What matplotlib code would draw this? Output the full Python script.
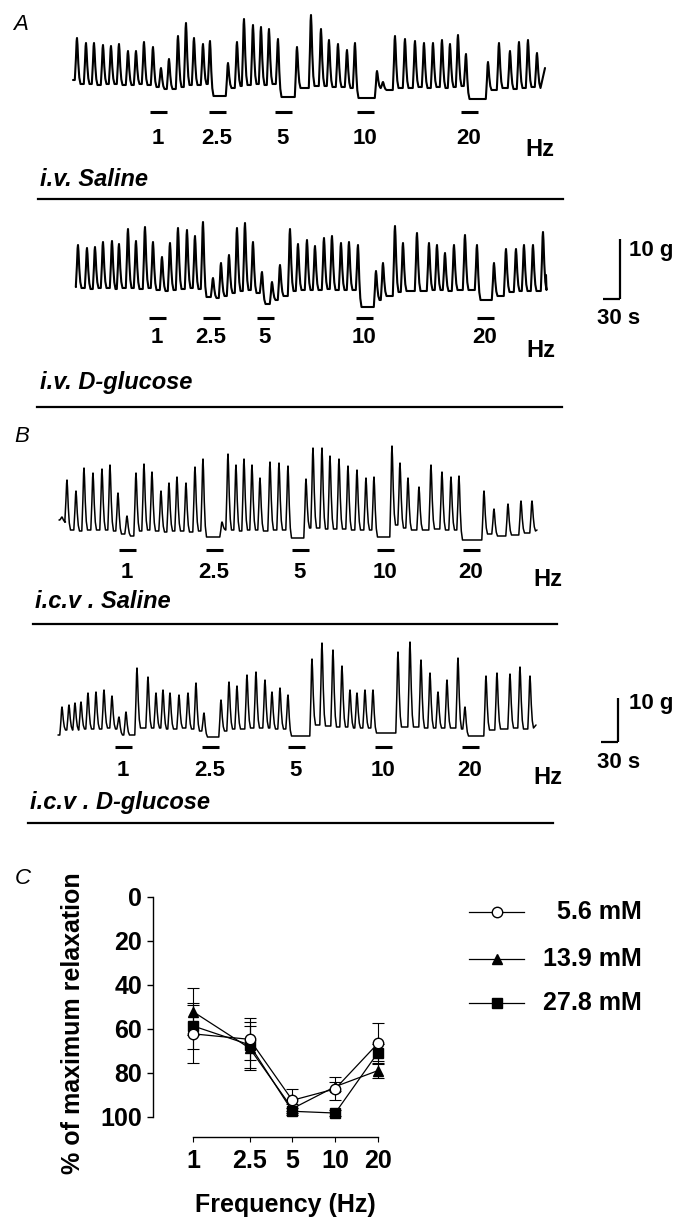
import numpy as np
import matplotlib
matplotlib.use("Agg")
import matplotlib.pyplot as plt
from matplotlib.lines import Line2D

plt.rcParams['font.family'] = ['Liberation Sans', 'DejaVu Sans']

W, H = 687, 1217

# ---------------- data ----------------
stim_labels = ['1', '2.5', '5', '10', '20']
STIM_DUR_S = 30.0

# digitised recordings (positions on the original record, pixels)
SEC_PER_PX = 30.0 / 17.0          # 30 s calibration bar = 17 px
A_G_PER_PX = 10.0 / 60.0          # panel A: 10 g bar = 60 px
B_G_PER_PX = 10.0 / 44.0          # panel B: 10 g bar = 44 px

# A, i.v. saline
ivsal_start = (73, 80)
ivsal_end = (545, 68)
ivsal_peak_x = [77, 86, 94, 103, 111, 119, 128, 136, 144, 153,
                161, 169, 178, 186, 194, 203, 210,
                228, 237, 244, 253, 261, 269, 278,
                297, 311, 321, 329, 338, 347, 355,
                377, 383, 395, 405, 415, 424, 433, 442, 450, 458, 466,
                488, 499, 510, 519, 528, 537]
ivsal_peak_y = [38, 43, 43, 45, 46, 44, 51, 51, 42, 47,
                68, 59, 36, 23, 38, 44, 41,
                63, 42, 19, 25, 27, 29, 39,
                47, 15, 29, 40, 44, 50, 43,
                71, 82, 36, 39, 41, 43, 43, 40, 44, 35, 54,
                62, 43, 51, 42, 40, 53]
ivsal_trough_y = [84, 84, 85, 84, 84, 85, 85, 84, 85, 87,
                  89, 89, 87, 85, 85, 84, 96,
                  88, 86, 85, 84, 85, 84, 97,
                  88, 86, 86, 87, 87, 88, 98,
                  88, 90, 88, 88, 87, 88, 87, 88, 87, 86, 99,
                  90, 88, 89, 88, 87, 88]
ivsal_stim_x = [158, 217, 283, 365, 469]

# A, i.v. D-glucose
ivglc_start = (76, 287)
ivglc_end = (546, 275)
ivglc_peak_x = [78, 87, 95, 103, 112, 119, 128, 136, 145, 153,
                162, 170, 178, 187, 195, 203,
                213, 221, 229, 237, 245, 253, 262,
                272, 280, 290, 298, 307, 315, 324, 332, 341, 349, 358,
                376, 383, 395, 403, 417, 429, 437, 445, 454, 465, 477,
                494, 506, 516, 524, 533, 543]
ivglc_peak_y = [245, 248, 247, 242, 241, 244, 229, 241, 227, 242,
                257, 243, 228, 230, 236, 222,
                278, 263, 255, 228, 223, 242, 272,
                282, 265, 229, 244, 240, 246, 238, 236, 243, 242, 245,
                271, 263, 226, 243, 233, 243, 245, 253, 245, 235, 245,
                263, 249, 249, 245, 245, 232]
ivglc_trough_y = [288, 289, 288, 288, 289, 288, 288, 289, 288, 290,
                  291, 290, 289, 288, 289, 297,
                  298, 296, 293, 291, 290, 293, 304,
                  300, 296, 291, 290, 290, 290, 289, 290, 290, 290, 307,
                  300, 296, 292, 291, 291, 290, 290, 291, 290, 290, 300,
                  296, 292, 291, 291, 291, 290]
ivglc_stim_x = [157, 211, 265, 364, 485]

# B, i.c.v. saline
icvsal_start = (59, 520)
icvsal_end = (537, 530)
icvsal_peak_x = [62, 67, 76, 84, 93, 102, 110, 118, 127,
                 136, 144, 152, 161, 169, 177, 186, 195, 203,
                 222, 228, 236, 244, 252, 260, 270, 279, 288,
                 306, 313, 322, 330, 339, 348, 357, 366, 374,
                 392, 400, 408, 419, 431, 442, 451, 459,
                 484, 494, 508, 521, 532]
icvsal_peak_y = [517, 480, 491, 468, 473, 469, 465, 493, 516,
                 473, 464, 472, 491, 483, 477, 483, 467, 459,
                 522, 454, 465, 459, 465, 478, 462, 463, 466,
                 479, 448, 448, 456, 459, 466, 470, 478, 477,
                 446, 463, 478, 487, 465, 472, 477, 476,
                 491, 509, 504, 501, 501]
icvsal_trough_y = [522, 530, 531, 530, 530, 530, 531, 534, 536,
                   531, 530, 531, 532, 531, 531, 532, 531, 537,
                   530, 530, 531, 530, 530, 531, 530, 530, 538,
                   528, 528, 529, 529, 529, 530, 530, 530, 537,
                   525, 528, 530, 530, 529, 530, 530, 540,
                   534, 536, 535, 533, 531]
icvsal_stim_x = [127, 214, 300, 385, 471]

# B, i.c.v. D-glucose
icvglc_start = (58, 735)
icvglc_end = (536, 725)
icvglc_peak_x = [62, 69, 75, 81, 88, 96, 104, 112,
                 119, 126,
                 137, 148, 156, 163, 170, 179, 188, 196, 204,
                 221, 229, 237, 247, 256, 265, 272, 280, 288,
                 312, 322, 333, 342, 350, 357, 365, 373,
                 398, 410, 421, 430, 438, 447, 458, 465,
                 486, 497, 510, 520, 530]
icvglc_peak_y = [707, 705, 703, 702, 693, 692, 690, 696,
                 717, 712,
                 668, 677, 693, 690, 693, 695, 693, 683, 713,
                 700, 682, 686, 675, 672, 680, 692, 688, 695,
                 659, 643, 650, 666, 690, 693, 690, 690,
                 652, 642, 660, 673, 692, 680, 658, 707,
                 676, 673, 674, 667, 676]
icvglc_trough_y = [730, 730, 730, 729, 729, 729, 728, 729,
                   735, 735,
                   728, 728, 728, 729, 729, 728, 729, 731, 737,
                   731, 729, 729, 728, 728, 728, 729, 729, 736,
                   725, 726, 727, 727, 728, 728, 728, 733,
                   727, 727, 728, 728, 728, 728, 729, 736,
                   730, 729, 728, 729, 728]
icvglc_stim_x = [123, 210, 296, 383, 470]

# C, frequency-response
freq_hz = [1, 2.5, 5, 10, 20]
freq_labels = ['1', '2.5', '5', '10', '20']
g56_mean = [62.2, 64.7, 92.4, 87.2, 66.5]
g56_sem = [13.3, 9.6, 5.0, 5.2, 9.4]
g139_mean = [52.1, 68.7, 96.2, 86.2, 78.9]
g139_sem = [10.6, 10.0, 2.0, 2.0, 3.4]
g278_mean = [58.6, 67.2, 97.4, 98.2, 70.7]
g278_sem = [10.5, 10.5, 1.5, 1.5, 4.0]
legend_labels = ['5.6 mM', '13.9 mM', '27.8 mM']

# ---------------- figure ----------------
fig = plt.figure(figsize=(W / 100, H / 100), dpi=100)


def fx(x):
    return x / W


def fy(y):
    return 1 - y / H


# contraction wave shape (drawing style): offsets in px around each peak and
# the fraction of the peak height above the local trough level
SHAPE_DX_L = [-2.2, -1.1, -0.4]
SHAPE_F_L = [0.0, 0.5, 0.92]
SHAPE_DX_R = [0.5, 1.3, 2.3, 3.5]
SHAPE_F_R = [0.85, 0.45, 0.14, 0.0]
BOLD = dict(fontweight='bold', color='k')


class Trace:
    def __init__(self, top, bottom, ref, gpp):
        self.ref, self.gpp = ref, gpp
        self.ax = fig.add_axes([0, fy(bottom), 1, (bottom - top) / H])
        self.ax.set_xlim(0, W * SEC_PER_PX)
        self.ax.set_ylim((ref - bottom) * gpp, (ref - top) * gpp)
        self.ax.axis('off')

    def t(self, x):
        return np.asarray(x, float) * SEC_PER_PX

    def g(self, y):
        return (self.ref - np.asarray(y, float)) * self.gpp

    def draw(self, start, px, py, ty, end, lw):
        xs, ys, prev = [start[0]], [start[1]], start[1]
        for x, y, tr in zip(px, py, ty):
            for dx, f in zip(SHAPE_DX_L, SHAPE_F_L):
                xs.append(x + dx)
                ys.append(prev + f * (y - prev))
            xs.append(x)
            ys.append(y)
            for dx, f in zip(SHAPE_DX_R, SHAPE_F_R):
                xs.append(x + dx)
                ys.append(tr + f * (y - tr))
            prev = tr
        xs.append(end[0])
        ys.append(end[1])
        self.ax.plot(self.t(xs), self.g(ys), color='k', lw=lw,
                     solid_joinstyle='round', solid_capstyle='round')

    def stims(self, stim_x, bar_y, label_y, hz_xy, fs=16):
        tc = self.t(stim_x)
        gb = float(self.g(bar_y))
        for t, lab in zip(tc, stim_labels):
            self.ax.plot([t - STIM_DUR_S / 2, t + STIM_DUR_S / 2], [gb, gb],
                         color='k', lw=2.2, solid_capstyle='butt')
            self.ax.text(t, float(self.g(label_y)), lab, ha='center', va='center',
                         fontsize=fs, clip_on=False, **BOLD)
        self.ax.text(float(self.t(hz_xy[0])), float(self.g(hz_xy[1])), 'Hz',
                     ha='center', va='center', fontsize=17, clip_on=False, **BOLD)

    def scalebar(self, x_left, y_bottom, t_len, g_len, txt_g, txt_s):
        t0 = float(self.t(x_left))
        g0 = float(self.g(y_bottom))
        self.ax.plot([t0, t0 + t_len], [g0, g0], color='k', lw=1.6,
                     solid_capstyle='butt')
        self.ax.plot([t0 + t_len, t0 + t_len], [g0, g0 + g_len], color='k',
                     lw=1.6, solid_capstyle='butt')
        self.ax.text(float(self.t(txt_g[0])), float(self.g(txt_g[1])), '10 g',
                     ha='left', va='center', fontsize=16, **BOLD)
        self.ax.text(float(self.t(txt_s[0])), float(self.g(txt_s[1])), '30 s',
                     ha='center', va='center', fontsize=16, **BOLD)


tr1 = Trace(0, 200, 85, A_G_PER_PX)
tr1.draw(ivsal_start, ivsal_peak_x, ivsal_peak_y, ivsal_trough_y, ivsal_end, 1.5)
tr1.stims(ivsal_stim_x, 112, 138, (540, 149))

tr2 = Trace(200, 410, 288, A_G_PER_PX)
tr2.draw(ivglc_start, ivglc_peak_x, ivglc_peak_y, ivglc_trough_y, ivglc_end, 1.5)
tr2.stims(ivglc_stim_x, 318, 337, (541, 350))
tr2.scalebar(603, 299, 30, 10, (629, 250), (619, 318))

tr3 = Trace(410, 625, 530, B_G_PER_PX)
tr3.draw(icvsal_start, icvsal_peak_x, icvsal_peak_y, icvsal_trough_y, icvsal_end, 1.1)
tr3.stims(icvsal_stim_x, 550, 572, (548, 580))

tr4 = Trace(625, 825, 728, B_G_PER_PX)
tr4.draw(icvglc_start, icvglc_peak_x, icvglc_peak_y, icvglc_trough_y, icvglc_end, 1.1)
tr4.stims(icvglc_stim_x, 747, 770, (548, 778))
tr4.scalebar(601, 742, 30, 10, (629, 703), (619, 763))

# condition names
for txt, x, y in [('i.v. Saline', 40, 180), ('i.v. D-glucose', 40, 383),
                  ('i.c.v . Saline', 35, 602), ('i.c.v . D-glucose', 30, 802)]:
    fig.text(fx(x), fy(y), txt, ha='left', va='center', fontsize=17,
             fontweight='bold', fontstyle='italic')

# separators
for x0, x1, y in [(38, 563, 199), (37, 562, 407), (33, 557, 624), (28, 553, 823)]:
    fig.add_artist(Line2D([fx(x0), fx(x1)], [fy(y), fy(y)], color='k', lw=1.6))

# panel letters
for txt, x, y in [('A', 21, 25), ('B', 22, 437), ('C', 23, 878)]:
    fig.text(fx(x), fy(y), txt, ha='center', va='center', fontsize=16,
             fontstyle='italic')

# ---------------- panel C ----------------
ax = fig.add_axes([fx(153), fy(1117), (390 - 153) / W, (1117 - 897) / H])
ax.set_xscale('log')
ax.set_xlim(0.5233, 24.29)
ax.set_ylim(100, 0)
for s in ['top', 'right']:
    ax.spines[s].set_visible(False)
ax.spines['left'].set_bounds(0, 100)
ax.spines['bottom'].set_bounds(1, 20)
ax.spines['bottom'].set_position(('outward', 14.4))
for s in ['left', 'bottom']:
    ax.spines[s].set_linewidth(1.0)
ax.set_yticks([0, 20, 40, 60, 80, 100])
ax.set_xticks(freq_hz)
ax.set_xticklabels(freq_labels)
ax.xaxis.set_minor_locator(matplotlib.ticker.NullLocator())
ax.tick_params(axis='y', length=4.3, width=1.0, pad=3.5, labelsize=18)
ax.tick_params(axis='x', length=3.6, width=0.8, pad=5, labelsize=18)
for lab in ax.get_xticklabels() + ax.get_yticklabels():
    lab.set_fontweight('bold')

series = [(g278_mean, g278_sem, 's', 'k', 6.5),
          (g139_mean, g139_sem, '^', 'k', 7.5),
          (g56_mean, g56_sem, 'o', 'white', 7.5)]
for mean, sem, mk, fc, ms in series:
    ax.errorbar(freq_hz, mean, yerr=sem, fmt='none', ecolor='k',
                elinewidth=0.8, capsize=4.5, capthick=0.8, zorder=2)
    ax.plot(freq_hz, mean, color='k', lw=0.9, marker=mk, ms=ms,
            mfc=fc, mec='k', mew=1.0, zorder=3, clip_on=False)

ax.set_ylabel('% of maximum relaxation', fontsize=18, fontweight='bold')
ax.yaxis.set_label_coords((73 - 153) / 237, (1117 - 1023) / 220)
ax.yaxis.label.set_va('center')
ax.set_xlabel('Frequency (Hz)', fontsize=18, fontweight='bold')
ax.xaxis.set_label_coords((285 - 153) / 237, (1117 - 1205) / 220)
ax.xaxis.label.set_va('center')

# legend
lax = fig.add_axes([fx(460), fy(1025), (655 - 460) / W, (1025 - 895) / H])
lax.set_xlim(460, 655)
lax.set_ylim(1025, 895)
lax.axis('off')
for (mk, fc, ms), lab, yy in zip([('o', 'white', 7.5), ('^', 'k', 7.5), ('s', 'k', 6.5)],
                                 legend_labels, [912, 959, 1003]):
    lax.plot([469, 524], [yy, yy], color='k', lw=0.9)
    lax.plot([497], [yy], marker=mk, ms=ms, mfc=fc, mec='k', mew=1.0, color='k')
    lax.text(642, yy, lab, ha='right', va='center', fontsize=18, fontweight='bold')

fig.savefig('out.png', dpi=100)
